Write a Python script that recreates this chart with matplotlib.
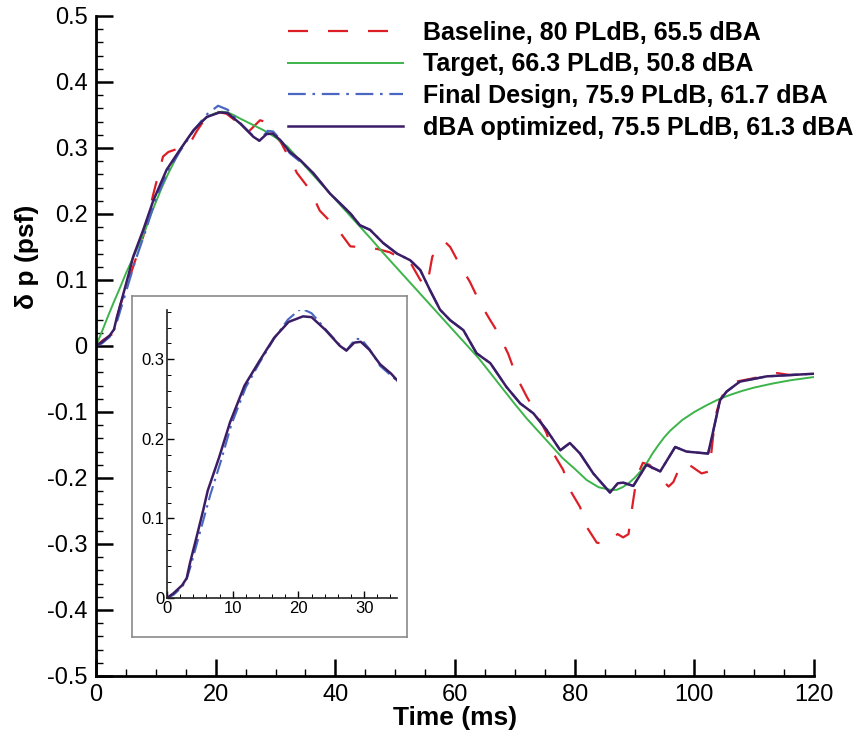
import matplotlib
matplotlib.use("Agg")
import matplotlib.pyplot as plt
from matplotlib.ticker import MultipleLocator, FuncFormatter

plt.rcParams.update({
    "font.family": ["Liberation Sans", "DejaVu Sans"],
    "font.size": 16,
})

# ---- data (time in ms, dp in psf) ----
base_t = [0, 1.2, 2.9, 4.0, 6.2, 7.9, 9.6, 11.2, 12.1, 14, 15.7, 16.8, 18.5, 19.6,
          21.8, 23.5, 25.2, 26.3, 27.4, 28.2, 29.0, 30.2, 31.0, 33.6, 35.8, 37.4,
          40.3, 42.5, 45.3, 47, 49.1, 50.3, 52.5, 54.2, 55.3, 56.2, 57.2, 58.3,
          59.2, 60.8, 62.5, 64.2, 65.9, 67.2, 68.9, 70.3, 72.0, 73.6, 75.3, 76.4,
          78.1, 79.2, 80.9, 82.0, 83.7, 85.2, 86.3, 87.2, 88.1, 89.0, 89.3, 89.8,
          90.4, 91.4, 92.5, 94.3, 95.7, 96.5, 97.5, 98.5, 101.2, 102.5, 103.5,
          104.3, 105.5, 107, 109.8, 113.8, 116, 120]
base_p = [0, 0.009, 0.019, 0.06, 0.12, 0.166, 0.231, 0.287, 0.294, 0.30, 0.307,
          0.325, 0.348, 0.356, 0.352, 0.34, 0.322, 0.332, 0.342, 0.34, 0.322,
          0.317, 0.307, 0.262, 0.236, 0.205, 0.178, 0.151, 0.149, 0.147, 0.142,
          0.136, 0.127, 0.10, 0.09, 0.135, 0.153, 0.158, 0.15, 0.123, 0.097,
          0.065, 0.039, 0.02, -0.012, -0.047, -0.077, -0.102, -0.132, -0.162,
          -0.188, -0.218, -0.244, -0.274, -0.298, -0.300, -0.29, -0.285, -0.29,
          -0.285, -0.264, -0.233, -0.198, -0.177, -0.18, -0.2, -0.213, -0.206,
          -0.185, -0.176, -0.193, -0.19, -0.107, -0.082, -0.062, -0.054, -0.049,
          -0.041, -0.044, -0.043]

target_t = [0, 1, 2, 3, 4, 5, 6, 7, 8, 9, 10, 11, 12, 13, 14, 15, 16, 17, 18, 19,
            20, 21, 22, 23, 24, 26, 28, 30, 32, 34, 36, 38, 40, 42, 44, 46, 48,
            50, 52, 54, 56, 58, 60, 62, 64, 66, 68, 70, 72, 74, 76, 78, 80, 82,
            84, 86, 87, 88, 89, 90, 91, 92, 93, 94, 95, 96, 98, 100, 102, 104,
            106, 108, 110, 113, 116, 120]
target_p = [0, 0.022, 0.045, 0.067, 0.088, 0.11, 0.13, 0.15, 0.17, 0.195, 0.218,
            0.24, 0.26, 0.278, 0.296, 0.31, 0.323, 0.334, 0.343, 0.349, 0.353,
            0.355, 0.354, 0.35, 0.345, 0.336, 0.327, 0.316, 0.302, 0.282, 0.262,
            0.242, 0.222, 0.202, 0.182, 0.162, 0.141, 0.121, 0.101, 0.081, 0.061,
            0.041, 0.021, 0.001, -0.019, -0.042, -0.065, -0.088, -0.11, -0.13,
            -0.15, -0.17, -0.186, -0.203, -0.214, -0.218, -0.218, -0.214, -0.208,
            -0.200, -0.19, -0.178, -0.163, -0.15, -0.138, -0.128, -0.112, -0.1,
            -0.09, -0.081, -0.074, -0.068, -0.063, -0.057, -0.052, -0.047]

final_t = [0, 1, 2.3, 3, 3.6, 4.8, 5.8, 6.6, 8.2, 9.8, 12.0, 14.1, 16.3, 18.4,
           20.4, 22.0, 24.1, 26.3, 27.3, 28.7, 29.6, 30.8, 32.4, 35.0, 36.3, 39.1,
           42.5, 44.1, 45.8, 48.0, 50.3, 52.5, 54.2, 55.8, 57.5, 59.2, 61.4,
           63.6, 65.9, 68.6, 70.9, 73.1, 75.3, 77.6, 79.2, 80.9, 83.1, 85.9, 87.2,
           88.1, 89.8, 92.0, 94.3, 96.8, 98.7, 102.3, 103.2, 104.3, 105.4, 107.6,
           112.1, 120]
final_p = [0, 0.004, 0.014, 0.024, 0.04, 0.076, 0.106, 0.13, 0.172, 0.218, 0.265,
           0.296, 0.326, 0.350, 0.364, 0.358, 0.338, 0.318, 0.311, 0.326, 0.325,
           0.313, 0.292, 0.273, 0.262, 0.231, 0.201, 0.183, 0.176, 0.156, 0.140,
           0.130, 0.115, 0.085, 0.055, 0.039, 0.024, -0.011, -0.026, -0.062,
           -0.087, -0.102, -0.127, -0.158, -0.147, -0.163, -0.193, -0.222, -0.208,
           -0.207, -0.212, -0.180, -0.190, -0.153, -0.160, -0.163, -0.127, -0.082,
           -0.069, -0.054, -0.046, -0.042]

dba_t = [0, 1, 2.3, 3, 3.5, 4.6, 5.5, 6.2, 7.9, 9.6, 11.8, 14.0, 16.3, 18.5, 20.7,
         22.0, 24.1, 26.3, 27.3, 28.5, 29.5, 30.8, 32.4, 34.1, 36.3, 39.1, 42.5,
         44.1, 45.8, 48.0, 50.3, 52.5, 54.2, 55.8, 57.5, 59.2, 61.4, 63.6, 65.9,
         68.6, 70.9, 73.1, 75.3, 77.6, 79.2, 80.9, 83.1, 85.9, 87.2, 88.1, 89.8,
         92.0, 94.3, 96.8, 98.7, 102.3, 103.2, 104.3, 105.4, 107.6, 112.1, 120]
dba_p = [0, 0.006, 0.016, 0.025, 0.044, 0.08, 0.11, 0.135, 0.176, 0.221, 0.267,
         0.297, 0.327, 0.347, 0.354, 0.353, 0.337, 0.317, 0.311, 0.321, 0.322,
         0.312, 0.294, 0.282, 0.262, 0.231, 0.201, 0.183, 0.176, 0.156, 0.140,
         0.130, 0.115, 0.085, 0.055, 0.039, 0.024, -0.011, -0.026, -0.062, -0.087,
         -0.102, -0.127, -0.158, -0.147, -0.163, -0.193, -0.222, -0.208, -0.207,
         -0.212, -0.180, -0.190, -0.153, -0.160, -0.163, -0.127, -0.082, -0.069,
         -0.054, -0.046, -0.042]

labels = ["Baseline, 80 PLdB, 65.5 dBA",
          "Target, 66.3 PLdB, 50.8 dBA",
          "Final Design, 75.9 PLdB, 61.7 dBA",
          "dBA optimized, 75.5 PLdB, 61.3 dBA"]

RED = "#dc1f26"
GREEN = "#3cb44a"
BLUE = "#4a68c2"
PURPLE = "#3b1d66"

fig = plt.figure(figsize=(8.65, 7.36), dpi=100)
ax = fig.add_axes([96 / 865, 60 / 736, 718 / 865, 660 / 736])
ax.plot(base_t, base_p, color=RED, lw=1.6, dashes=(9, 9), label=labels[0])
ax.plot(target_t, target_p, color=GREEN, lw=1.4, label=labels[1])
ax.plot(final_t, final_p, color=BLUE, lw=1.6, dashes=(8, 3, 1.2, 3), label=labels[2])
ax.plot(dba_t, dba_p, color=PURPLE, lw=1.8, label=labels[3])

ax.set_xlim(0, 120)
ax.set_ylim(-0.5, 0.5)
ax.xaxis.set_major_locator(MultipleLocator(20))
ax.xaxis.set_minor_locator(MultipleLocator(5))
ax.yaxis.set_major_locator(MultipleLocator(0.1))
ax.yaxis.set_minor_locator(MultipleLocator(0.02))
fmt = FuncFormatter(lambda v, p: "0" if abs(v) < 1e-9 else f"{v:.1f}")
ax.yaxis.set_major_formatter(fmt)
ax.tick_params(which="major", direction="in", length=12, width=1.8, labelsize=17, pad=6)
ax.tick_params(which="minor", direction="in", length=5, width=1.0)
for side in ("top", "right"):
    ax.spines[side].set_visible(False)
for side in ("left", "bottom"):
    ax.spines[side].set_linewidth(2.0)

ax.set_xlabel("Time (ms)", fontsize=19, fontweight="bold", labelpad=0)
ax.set_ylabel("δ p (psf)", fontsize=19, fontweight="bold")
ax.yaxis.set_label_coords(-0.08, 0.635)

ax.legend(loc="upper left", bbox_to_anchor=(288 / 865, 1 - 21 / 736),
          bbox_transform=fig.transFigure, frameon=False, borderpad=0,
          borderaxespad=0, handlelength=4.6, handletextpad=0.8,
          labelspacing=0.3, prop={"weight": "bold", "size": 18})

# ---- inset: zoom on the first 35 ms ----
frame = fig.add_axes([131.7 / 865, (736 - 636.7) / 736, 275 / 865, 340.7 / 736])
frame.set_xticks([])
frame.set_yticks([])
frame.set_facecolor("white")
for s in frame.spines.values():
    s.set_edgecolor("#8a8a8a")
    s.set_linewidth(1.2)
frame.set_zorder(5)

ins = fig.add_axes([167 / 865, (736 - 598) / 736, 230 / 865, 288 / 736])
ins.set_zorder(6)
ins.patch.set_alpha(0)
ins.plot(final_t, final_p, color=BLUE, lw=1.5, dashes=(7, 2.5, 1.2, 2.5))
ins.plot(dba_t, dba_p, color=PURPLE, lw=1.8)
ins.set_xlim(0, 35)
ins.set_ylim(0, 0.362)
ins.xaxis.set_major_locator(MultipleLocator(10))
ins.xaxis.set_minor_locator(MultipleLocator(2))
ins.yaxis.set_major_locator(MultipleLocator(0.1))
ins.yaxis.set_minor_locator(MultipleLocator(0.02))
ins.yaxis.set_major_formatter(fmt)
ins.tick_params(which="major", direction="in", length=5, width=1.0, labelsize=12, pad=2)
ins.tick_params(which="minor", direction="in", length=3, width=0.7)
for side in ("top", "right"):
    ins.spines[side].set_visible(False)
for side in ("left", "bottom"):
    ins.spines[side].set_linewidth(1.2)
    ins.spines[side].set_color("#222222")

fig.savefig("out.png", dpi=100)
